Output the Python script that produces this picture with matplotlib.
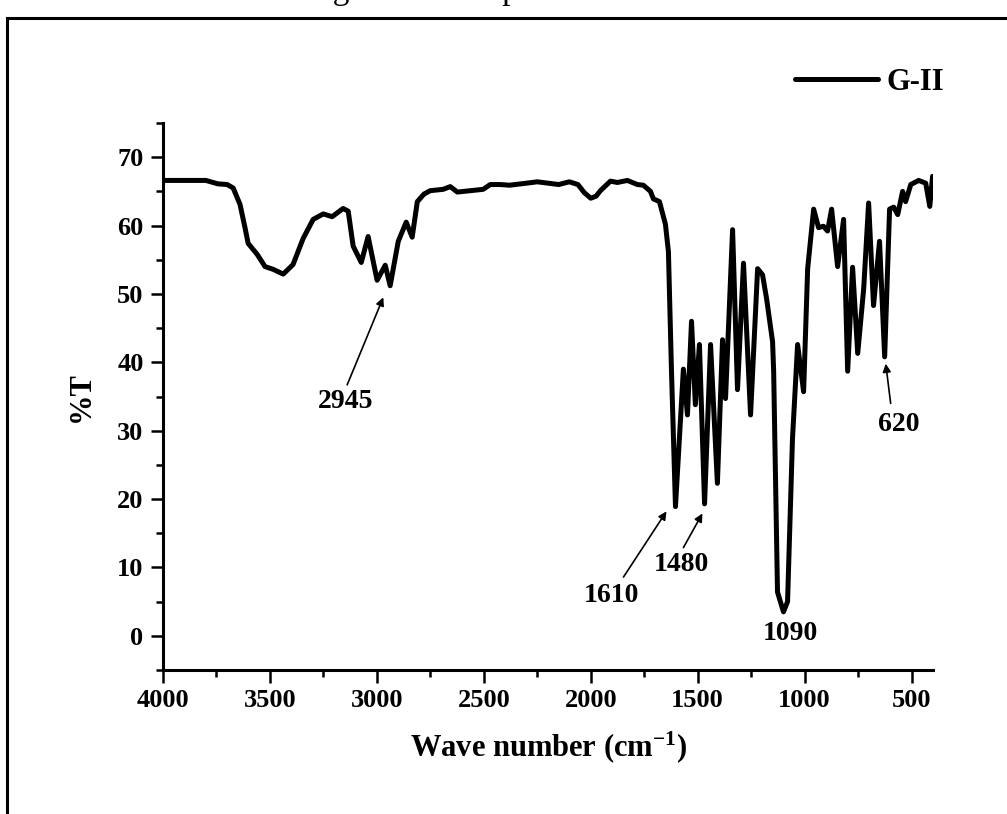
import matplotlib
matplotlib.use("Agg")
import matplotlib.pyplot as plt
from matplotlib.lines import Line2D

# ---- data ----
wavenumber = [4000, 3900, 3800, 3743, 3700, 3672, 3640, 3616, 3602, 3560, 3523, 3485,
              3438, 3392, 3345, 3298, 3251, 3209, 3158, 3134, 3111, 3073, 3041, 2999,
              2961, 2938, 2900, 2863, 2835, 2811, 2780, 2751, 2690, 2657, 2624, 2563,
              2503, 2470, 2423, 2380, 2300, 2250, 2200, 2150, 2100, 2060, 2030, 2000,
              1975, 1955, 1908, 1876, 1829, 1782, 1754, 1721, 1707, 1679, 1651, 1637,
              1623, 1604, 1567, 1548, 1529, 1511, 1492, 1468, 1440, 1408, 1384, 1370,
              1337, 1314, 1286, 1253, 1220, 1197, 1178, 1150, 1145, 1127, 1099, 1080,
              1057, 1033, 1005, 986, 958, 935, 912, 893, 874, 846, 818, 799, 776, 752,
              724, 701, 678, 650, 626, 603, 584, 565, 542, 528, 504, 467, 434, 415, 402]
transmittance = [66.6, 66.6, 66.6, 66.1, 66.0, 65.5, 63.1, 59.6, 57.4, 55.8, 54.0, 53.6,
                 52.9, 54.3, 58.1, 60.9, 61.7, 61.3, 62.5, 62.1, 57.0, 54.6, 58.4, 52.0,
                 54.2, 51.2, 57.7, 60.5, 58.3, 63.5, 64.6, 65.1, 65.3, 65.7, 64.9, 65.1,
                 65.3, 66.0, 66.0, 65.9, 66.2, 66.4, 66.2, 66.0, 66.4, 66.0, 64.8, 64.0,
                 64.3, 65.1, 66.5, 66.3, 66.6, 66.0, 65.9, 65.0, 63.9, 63.5, 60.2, 56.2,
                 39.1, 18.9, 39.0, 32.3, 46.0, 33.8, 42.6, 19.3, 42.6, 22.3, 43.3, 34.7,
                 59.4, 36.0, 54.5, 32.3, 53.7, 52.8, 49.3, 43.0, 38.7, 6.4, 3.5, 5.0,
                 28.8, 42.6, 35.7, 53.7, 62.4, 59.7, 59.9, 59.2, 62.4, 54.0, 60.9, 38.7,
                 53.9, 41.3, 50.8, 63.3, 48.3, 57.7, 40.8, 62.4, 62.7, 61.6, 65.0, 63.5,
                 66.0, 66.6, 66.2, 62.8, 67.2]
series_label = "G-II"
x_ticks = [4000, 3500, 3000, 2500, 2000, 1500, 1000, 500]
y_ticks = [0, 10, 20, 30, 40, 50, 60, 70]

# annotations: (label, text position, arrow tail, arrow tip)
annotations = [
    ("2945", (3148, 34.3), (3139, 36.7), (2970, 49.5)),
    ("1610", (1904, 5.9), (1847, 8.6), (1646, 18.2)),
    ("1480", (1576, 10.5), (1567, 12.9), (1478, 17.9)),
    ("1090", (1066, 0.3), None, None),
    ("620", (561, 30.9), (598, 34.0), (621, 39.8)),
]

W, H = 1007, 814
SERIF = ["Liberation Serif", "DejaVu Serif"]
plt.rcParams["font.family"] = SERIF
plt.rcParams["font.weight"] = "bold"
plt.rcParams["mathtext.fontset"] = "custom"
plt.rcParams["mathtext.rm"] = "Liberation Serif"
plt.rcParams["mathtext.bf"] = "Liberation Serif:bold"
plt.rcParams["mathtext.default"] = "bf"

fig = plt.figure(figsize=(W / 100, H / 100), dpi=100)
ax = fig.add_axes([163 / W, 1 - 670 / H, (933 - 163) / W, (670 - 123) / H])

ax.plot(wavenumber, transmittance, color="black", lw=3.6,
        solid_joinstyle="round", solid_capstyle="round", label=series_label)

ax.set_xlim(4000, 400)
ax.set_ylim(-5, 75)
ax.set_xticks(x_ticks)
ax.set_yticks(y_ticks)
ax.set_xticks(range(3750, 400, -500), minor=True)
ax.set_yticks([-5, 5, 15, 25, 35, 45, 55, 65, 75], minor=True)
for s in ("top", "right"):
    ax.spines[s].set_visible(False)
for s in ("left", "bottom"):
    ax.spines[s].set_linewidth(2.2)
ax.tick_params(which="major", length=9, width=1.8, labelsize=19, pad=5)
ax.tick_params(which="minor", length=5, width=1.8)
for lab in ax.get_xticklabels() + ax.get_yticklabels():
    lab.set_fontweight("bold")

ax.set_xlabel("Wave number (cm$^{-1}$)", fontsize=22, fontweight="bold", labelpad=12)
ax.set_ylabel("%T", fontsize=22, fontweight="bold", labelpad=15)

for label, txt, tail, tip in annotations:
    ax.text(txt[0], txt[1], label, ha="center", va="center", fontsize=20, fontweight="bold")
    if tail is not None:
        ax.annotate("", xy=tip, xytext=tail,
                    arrowprops=dict(arrowstyle="-|>", color="black", lw=1.2,
                                    mutation_scale=12, shrinkA=0, shrinkB=0))

leg = ax.legend(loc="center left", bbox_to_anchor=(795 / W, 1 - 82 / H),
                bbox_transform=fig.transFigure, frameon=False, handlelength=2.7,
                handletextpad=0.3, borderpad=0, borderaxespad=0,
                prop={"family": SERIF, "weight": "bold", "size": 22})

# page frame (top and left edges visible)
fig.add_artist(Line2D([7 / W, 1.0], [1 - 18 / H, 1 - 18 / H], transform=fig.transFigure,
                      color="black", lw=2.2))
fig.add_artist(Line2D([7 / W, 7 / W], [0, 1 - 18 / H], transform=fig.transFigure,
                      color="black", lw=2.2))
# caption, mostly cut off by the top edge as in the reference
fig.text(305 / W, 1 + 1.0 / H, "Fig. 3: FT-IR spectra of G-II", ha="left", va="baseline",
         fontsize=24, fontweight="normal")

fig.savefig("out.png", dpi=100)
